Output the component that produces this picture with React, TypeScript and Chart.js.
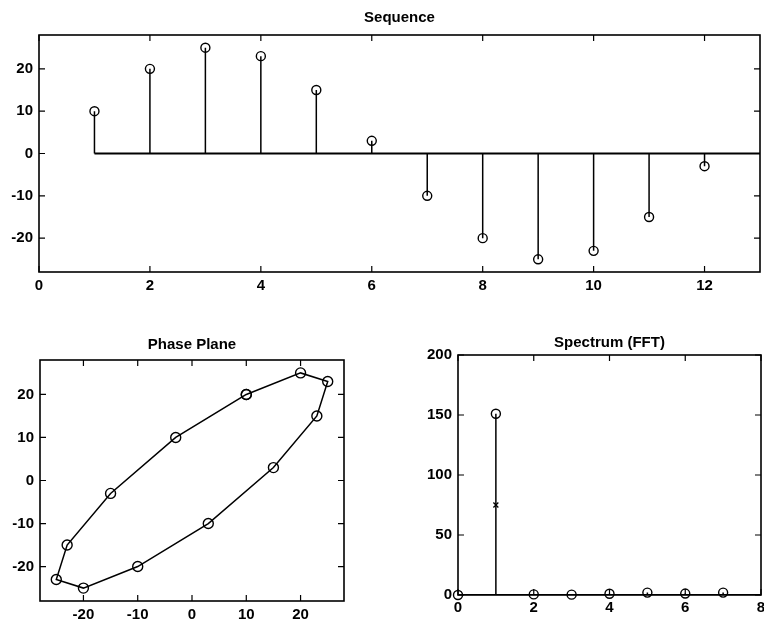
import React, { useEffect, useRef } from "react";
import { Chart, registerables } from "chart.js";

Chart.register(...registerables);

// ---------- data ----------
const SEQ_N = [1, 2, 3, 4, 5, 6, 7, 8, 9, 10, 11, 12];
const SEQ_VALUES = [10, 20, 25, 23, 15, 3, -10, -20, -25, -23, -15, -3];
const SEQ_X_TICKS = [0, 2, 4, 6, 8, 10, 12];
const SEQ_Y_TICKS = [-20, -10, 0, 10, 20];

const PHASE_X_TICKS = [-20, -10, 0, 10, 20];
const PHASE_Y_TICKS = [-20, -10, 0, 10, 20];

const SPEC_K = [0, 1, 2, 3, 4, 5, 6, 7];
const SPEC_MAG = [0, 151, 0.5, 0.3, 1, 2, 1.2, 2];
const SPEC_MARK_K = [1];
const SPEC_MARK_V = [75];
const SPEC_X_TICKS = [0, 2, 4, 6, 8];
const SPEC_Y_TICKS = [0, 50, 100, 150, 200];

// ---------- helpers ----------
const FONT = { family: '"Liberation Sans", Arial, sans-serif', size: 15, weight: "bold" as const };

const framePlugin = {
  id: "frame",
  afterDatasetsDraw(chart: any) {
    const { ctx, chartArea: a, scales } = chart;
    ctx.save();
    ctx.strokeStyle = "#000";
    ctx.lineWidth = 1.6;
    ctx.strokeRect(a.left, a.top, a.right - a.left, a.bottom - a.top);
    ctx.lineWidth = 1.2;
    const L = 6;
    ctx.beginPath();
    scales.x.ticks.forEach((t: any) => {
      const px = scales.x.getPixelForValue(t.value);
      ctx.moveTo(px, a.bottom);
      ctx.lineTo(px, a.bottom - L);
      ctx.moveTo(px, a.top);
      ctx.lineTo(px, a.top + L);
    });
    scales.y.ticks.forEach((t: any) => {
      const py = scales.y.getPixelForValue(t.value);
      ctx.moveTo(a.left, py);
      ctx.lineTo(a.left + L, py);
      ctx.moveTo(a.right, py);
      ctx.lineTo(a.right - L, py);
    });
    ctx.stroke();
    ctx.restore();
  },
};

function axis(min: number, max: number, ticks: number[], fit: (s: any) => void, pad: number) {
  return {
    type: "linear" as const,
    min,
    max,
    afterBuildTicks: (s: any) => {
      s.ticks = ticks.map((v) => ({ value: v }));
    },
    afterFit: fit,
    grid: { display: false, drawTicks: false },
    border: { display: false },
    ticks: {
      color: "#000",
      font: FONT,
      padding: pad,
      maxRotation: 0,
      autoSkip: false,
      callback: (v: any) => String(v),
    },
  };
}

function stemData(xs: number[], ys: number[]) {
  const out: any[] = [];
  xs.forEach((x, i) => {
    out.push({ x, y: 0 });
    out.push({ x, y: ys[i] });
    out.push({ x, y: null });
  });
  return out;
}

function baseOptions(padTop: number, padRight: number) {
  return {
    animation: false as const,
    responsive: false,
    maintainAspectRatio: false,
    devicePixelRatio: 1,
    layout: { padding: { top: padTop, right: padRight, bottom: 0, left: 0 }, autoPadding: false },
    plugins: { legend: { display: false }, tooltip: { enabled: false }, title: { display: false } },
    elements: { line: { tension: 0 } },
  };
}

function useChart(make: (c: HTMLCanvasElement) => Chart) {
  const ref = useRef<HTMLCanvasElement | null>(null);
  useEffect(() => {
    if (!ref.current) return;
    const ch = make(ref.current);
    return () => ch.destroy();
  }, []);
  return ref;
}

const titleStyle = (left: number, top: number, width: number): React.CSSProperties => ({
  position: "absolute",
  left,
  top,
  width,
  textAlign: "center",
  font: 'bold 15px "Liberation Sans", Arial, sans-serif',
  color: "#000",
  lineHeight: "18px",
});

export default function App() {
  const seqRef = useChart(
    (c) =>
      new Chart(c, {
        type: "scatter",
        data: {
          datasets: [
            {
              data: SEQ_N.map((x, i) => ({ x, y: SEQ_VALUES[i] })),
              pointStyle: "circle",
              pointRadius: 4.5,
              borderColor: "#000",
              backgroundColor: "rgba(0,0,0,0)",
              borderWidth: 1.4,
              showLine: false,
              clip: false,
            },
            {
              data: stemData(SEQ_N, SEQ_VALUES),
              showLine: true,
              spanGaps: false,
              pointRadius: 0,
              borderColor: "#000",
              borderWidth: 1.5,
            },
            {
              data: [
                { x: SEQ_N[0], y: 0 },
                { x: 13, y: 0 },
              ],
              showLine: true,
              pointRadius: 0,
              borderColor: "#000",
              borderWidth: 1.8,
            },
          ],
        },
        options: {
          ...baseOptions(35, 4),
          scales: {
            x: axis(0, 13, SEQ_X_TICKS, (s) => { s.height = 28; }, 5),
            y: axis(-28, 28, SEQ_Y_TICKS, (s) => { s.width = 39; }, 6),
          },
        } as any,
        plugins: [framePlugin],
      })
  );

  const phaseRef = useChart((c) => {
    const pts: any[] = [];
    for (let i = 0; i <= SEQ_VALUES.length; i++) {
      pts.push({
        x: SEQ_VALUES[i % SEQ_VALUES.length],
        y: SEQ_VALUES[(i + 1) % SEQ_VALUES.length],
      });
    }
    return new Chart(c, {
      type: "scatter",
      data: {
        datasets: [
          {
            data: pts,
            showLine: true,
            pointStyle: "circle",
            pointRadius: 5,
            borderColor: "#000",
            pointBorderColor: "#000",
            backgroundColor: "rgba(0,0,0,0)",
            pointBackgroundColor: "rgba(0,0,0,0)",
            borderWidth: 1.5,
            pointBorderWidth: 1.4,
            clip: false,
          },
        ],
      },
      options: {
        ...baseOptions(30, 36),
        scales: {
          x: axis(-28, 28, PHASE_X_TICKS, (s) => { s.height = 23; }, 5),
          y: axis(-28, 28, PHASE_Y_TICKS, (s) => { s.width = 40; }, 6),
        },
      } as any,
      plugins: [framePlugin],
    });
  });

  const specRef = useChart(
    (c) =>
      new Chart(c, {
        type: "scatter",
        data: {
          datasets: [
            {
              data: SPEC_K.map((x, i) => ({ x, y: SPEC_MAG[i] })),
              pointStyle: "circle",
              pointRadius: 4.5,
              borderColor: "#000",
              backgroundColor: "rgba(0,0,0,0)",
              borderWidth: 1.4,
              showLine: false,
              clip: false,
            },
            {
              data: SPEC_MARK_K.map((x, i) => ({ x, y: SPEC_MARK_V[i] })),
              pointStyle: "crossRot",
              pointRadius: 3.5,
              borderColor: "#000",
              borderWidth: 1.3,
              showLine: false,
              clip: false,
            },
            {
              data: stemData(SPEC_K, SPEC_MAG),
              showLine: true,
              spanGaps: false,
              pointRadius: 0,
              borderColor: "#000",
              borderWidth: 1.5,
            },
            {
              data: [
                { x: SPEC_K[0], y: 0 },
                { x: 8, y: 0 },
              ],
              showLine: true,
              pointRadius: 0,
              borderColor: "#000",
              borderWidth: 1.8,
            },
          ],
        },
        options: {
          ...baseOptions(25, 11),
          scales: {
            x: axis(0, 8, SPEC_X_TICKS, (s) => { s.height = 29; }, 4),
            y: axis(0, 200, SPEC_Y_TICKS, (s) => { s.width = 78; }, 6),
          },
        } as any,
        plugins: [framePlugin],
      })
  );

  return (
    <div style={{ position: "absolute", left: 0, top: 0, width: 764, height: 624, background: "#fff", overflow: "hidden" }}>
      <canvas ref={seqRef} width={764} height={300} style={{ position: "absolute", left: 0, top: 0 }} />
      <canvas ref={phaseRef} width={380} height={294} style={{ position: "absolute", left: 0, top: 330 }} />
      <canvas ref={specRef} width={392} height={294} style={{ position: "absolute", left: 380, top: 330 }} />
      <div style={titleStyle(39, 8, 721)}>Sequence</div>
      <div style={titleStyle(40, 335, 304)}>Phase Plane</div>
      <div style={titleStyle(458, 333, 303)}>Spectrum (FFT)</div>
    </div>
  );
}
